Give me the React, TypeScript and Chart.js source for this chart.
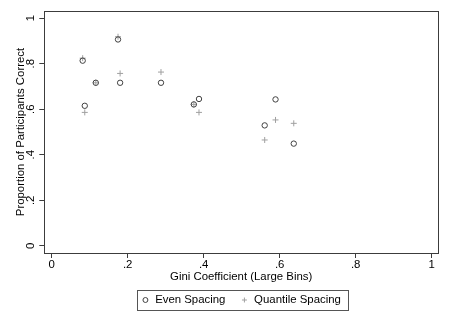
import React, { useEffect, useRef } from 'react';
import { Chart, registerables } from 'chart.js';

Chart.register(...registerables);

// ---- data ----
const giniCoefficient = [0.0815, 0.087, 0.116, 0.1745, 0.18, 0.2876, 0.374, 0.3876, 0.5605, 0.589, 0.637];
const evenSpacing = [0.813, 0.615, 0.716, 0.906, 0.716, 0.716, 0.621, 0.645, 0.529, 0.643, 0.449];
const quantileSpacing = [0.824, 0.586, 0.716, 0.918, 0.757, 0.763, 0.621, 0.586, 0.465, 0.553, 0.538];
const seriesLabels = ['Even Spacing', 'Quantile Spacing'];
const xTickValues = [0, 0.2, 0.4, 0.6, 0.8, 1];
const xTickLabels = ['0', '.2', '.4', '.6', '.8', '1'];
const yTickValues = [0, 0.2, 0.4, 0.6, 0.8, 1];
const yTickLabels = ['0', '.2', '.4', '.6', '.8', '1'];
const xTitle = 'Gini Coefficient (Large Bins)';
const yTitle = 'Proportion of Participants Correct';

const FONT = "'Liberation Sans', Arial, Helvetica, sans-serif";
const FS = 11.4;
const FRAME = '#3c3c3c';

function align(v: number) {
  return Math.round(v - 0.5) + 0.5;
}

const framePlugin = {
  id: 'frameAndLegendBox',
  afterDraw(chart: any) {
    const { ctx, chartArea: a } = chart;
    ctx.save();
    ctx.strokeStyle = FRAME;
    ctx.lineWidth = 1;
    const l = align(a.left), r = align(a.right), t = align(a.top), b = align(a.bottom);
    ctx.strokeRect(l, t, r - l, b - t);
    const lg = chart.legend;
    if (lg && lg.legendHitBoxes && lg.legendHitBoxes.length) {
      const hb = lg.legendHitBoxes;
      const first = hb[0];
      const last = hb[hb.length - 1];
      const cy = first.top + first.height / 2;
      const bl = align(first.left - 3.6);
      const br = align(last.left + last.width + 7.6);
      const bt = align(cy - 10);
      const bb = align(cy + 10);
      ctx.strokeStyle = '#555';
      ctx.strokeRect(bl, bt, br - bl, bb - bt);
    }
    ctx.restore();
  },
};

export default function App() {
  const ref = useRef<HTMLCanvasElement | null>(null);
  useEffect(() => {
    document.body.style.margin = '0';
    const canvas = ref.current;
    if (!canvas) return;
    Chart.defaults.font.family = FONT;
    Chart.defaults.font.size = FS;
    Chart.defaults.color = '#000';
    const chart = new Chart(canvas, {
      type: 'scatter',
      data: {
        datasets: [
          {
            label: seriesLabels[0],
            data: giniCoefficient.map((x, i) => ({ x, y: evenSpacing[i] })),
            pointStyle: 'circle',
            pointRadius: 2.7,
            borderColor: '#404040',
            backgroundColor: 'rgba(0,0,0,0)',
            borderWidth: 1,
          },
          {
            label: seriesLabels[1],
            data: giniCoefficient.map((x, i) => ({ x, y: quantileSpacing[i] })),
            pointStyle: 'cross',
            pointRadius: 3,
            borderColor: '#a0a0a0',
            backgroundColor: '#a0a0a0',
            borderWidth: 1,
          },
        ],
      },
      options: {
        animation: false,
        responsive: false,
        devicePixelRatio: 1,
        layout: { padding: { top: 11, right: 12, bottom: 11.3, left: 0 } },
        plugins: {
          tooltip: { enabled: false },
          legend: {
            position: 'bottom',
            fullSize: false,
            labels: {
              usePointStyle: true,
              boxWidth: 8,
              boxHeight: 3.5,
              padding: 15,
              color: '#000',
              font: { size: FS, family: FONT },
            },
          },
        },
        scales: {
          x: {
            type: 'linear',
            min: -0.0195,
            max: 1.0166,
            afterBuildTicks: (s: any) => {
              s.ticks = xTickValues.map((v) => ({ value: v }));
            },
            ticks: {
              padding: 0,
              autoSkip: false,
              maxRotation: 0,
              color: '#000',
              font: { size: FS, family: FONT },
              callback: (_v: any, i: number) => xTickLabels[i],
            },
            grid: { drawOnChartArea: false, drawTicks: true, tickLength: 5, color: FRAME, lineWidth: 1 },
            border: { display: false },
            title: {
              display: true,
              text: xTitle,
              color: '#000',
              font: { size: FS, family: FONT },
              padding: { top: -1.5, bottom: -4.56 },
            },
          },
          y: {
            type: 'linear',
            min: -0.031,
            max: 1.031,
            afterBuildTicks: (s: any) => {
              s.ticks = yTickValues.map((v) => ({ value: v }));
            },
            afterFit: (s: any) => {
              s.width = 44.3;
            },
            ticks: {
              padding: 3.85,
              autoSkip: false,
              minRotation: 90,
              maxRotation: 90,
              crossAlign: 'center',
              color: '#000',
              font: { size: FS, family: FONT },
              callback: (_v: any, i: number) => yTickLabels[i],
            },
            grid: { drawOnChartArea: false, drawTicks: true, tickLength: 5, color: FRAME, lineWidth: 1 },
            border: { display: false },
            title: {
              display: true,
              text: yTitle,
              color: '#000',
              font: { size: FS, family: FONT },
              padding: { top: 13.7, bottom: 0 },
            },
          },
        },
      } as any,
      plugins: [framePlugin],
    });
    return () => chart.destroy();
  }, []);
  return (
    <div style={{ width: 450, height: 327, background: '#fff' }}>
      <canvas ref={ref} width={450} height={327} style={{ display: 'block' }} />
    </div>
  );
}
